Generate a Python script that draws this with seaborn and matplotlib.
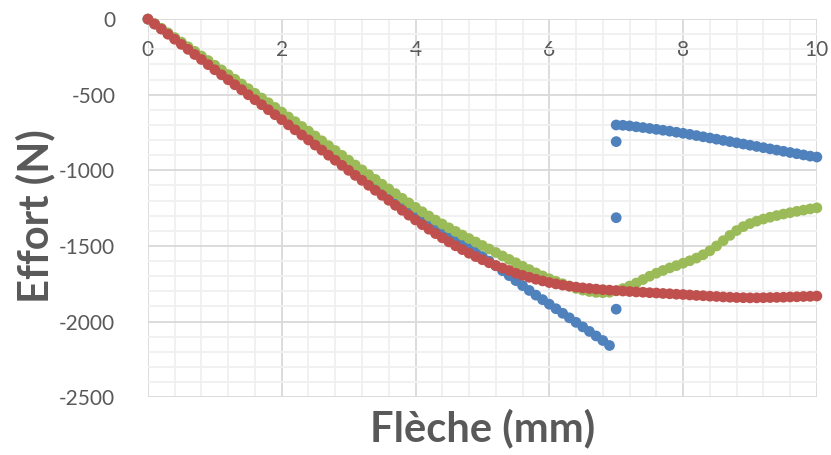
import numpy as np
import pandas as pd
import seaborn as sns
import matplotlib.pyplot as plt
from matplotlib.ticker import MultipleLocator

# flèche (mm), sampling grid shared by the curves
fleche = [0.0, 0.1, 0.2, 0.3, 0.4, 0.5, 0.6, 0.7, 0.8, 0.9,
          1.0, 1.1, 1.2, 1.3, 1.4, 1.5, 1.6, 1.7, 1.8, 1.9,
          2.0, 2.1, 2.2, 2.3, 2.4, 2.5, 2.6, 2.7, 2.8, 2.9,
          3.0, 3.1, 3.2, 3.3, 3.4, 3.5, 3.6, 3.7, 3.8, 3.9,
          4.0, 4.1, 4.2, 4.3, 4.4, 4.5, 4.6, 4.7, 4.8, 4.9,
          5.0, 5.1, 5.2, 5.3, 5.4, 5.5, 5.6, 5.7, 5.8, 5.9,
          6.0, 6.1, 6.2, 6.3, 6.4, 6.5, 6.6, 6.7, 6.8, 6.9,
          7.0, 7.1, 7.2, 7.3, 7.4, 7.5, 7.6, 7.7, 7.8, 7.9,
          8.0, 8.1, 8.2, 8.3, 8.4, 8.5, 8.6, 8.7, 8.8, 8.9,
          9.0, 9.1, 9.2, 9.3, 9.4, 9.5, 9.6, 9.7, 9.8, 9.9,
          10.0]

# blue series: before rupture (0 - 6.9), jump points at 7.0, after rupture (7.0 - 10)
blue_before = [0, -32, -63, -95, -127, -159, -191, -223, -255, -287,
               -319, -351, -383, -415, -447, -479, -511, -543, -575, -607,
               -639, -672, -704, -737, -769, -802, -834, -867, -899, -932,
               -964, -997, -1029, -1061, -1093, -1125, -1157, -1189, -1221, -1253,
               -1284, -1314, -1343, -1372, -1401, -1430, -1458, -1486, -1514, -1542,
               -1570, -1600, -1631, -1663, -1696, -1729, -1762, -1794, -1825, -1855,
               -1885, -1915, -1945, -1975, -2005, -2035, -2065, -2095, -2125, -2158]
blue_jump_x = [7.0, 7.0, 7.0]
blue_jump = [-1918, -1313, -810]
blue_after = [-700, -702, -706, -712, -717, -723, -729, -735, -741, -748,
              -755, -762, -770, -778, -786, -794, -802, -810, -818, -826,
              -834, -842, -850, -858, -866, -874, -882, -890, -898, -906,
              -912]

green = [0, -30, -61, -91, -122, -152, -183, -213, -244, -274,
         -305, -336, -367, -398, -429, -460, -491, -522, -553, -584,
         -615, -647, -678, -710, -741, -773, -805, -837, -869, -901,
         -933, -965, -997, -1029, -1060, -1092, -1123, -1154, -1185, -1215,
         -1245, -1274, -1302, -1329, -1355, -1380, -1404, -1428, -1451, -1474,
         -1497, -1520, -1543, -1566, -1589, -1611, -1634, -1656, -1678, -1698,
         -1717, -1734, -1750, -1765, -1780, -1792, -1801, -1807, -1809, -1806,
         -1797, -1782, -1765, -1745, -1722, -1700, -1680, -1662, -1645, -1630,
         -1614, -1598, -1580, -1558, -1532, -1500, -1465, -1430, -1398, -1372,
         -1352, -1336, -1322, -1310, -1299, -1289, -1280, -1271, -1263, -1255,
         -1248]

red = [0, -33, -66, -100, -133, -167, -200, -234, -267, -301,
       -335, -368, -401, -434, -467, -500, -533, -566, -599, -632,
       -665, -699, -732, -766, -799, -833, -866, -900, -933, -967,
       -1000, -1033, -1066, -1099, -1132, -1165, -1198, -1231, -1264, -1296,
       -1328, -1359, -1389, -1418, -1446, -1473, -1499, -1524, -1548, -1570,
       -1591, -1611, -1629, -1646, -1662, -1680, -1694, -1707, -1720, -1731,
       -1742, -1751, -1759, -1766, -1772, -1777, -1781, -1785, -1789, -1792,
       -1795, -1798, -1801, -1804, -1806, -1809, -1811, -1814, -1816, -1819,
       -1821, -1824, -1827, -1829, -1832, -1834, -1837, -1839, -1841, -1842,
       -1843, -1843, -1842, -1841, -1840, -1839, -1837, -1836, -1834, -1833,
       -1831]

colors = {'s1': '#4F81BD', 's2': '#9BBB59', 's3': '#C0504D'}
grey = '#595959'

x_blue = fleche[:70] + blue_jump_x + fleche[70:]
y_blue = blue_before + blue_jump + blue_after
df = pd.DataFrame({
    'x': x_blue + fleche + fleche,
    'y': y_blue + green + red,
    'serie': ['s1'] * len(x_blue) + ['s2'] * len(fleche) + ['s3'] * len(fleche),
})

sns.set_style('white')
plt.rcParams['font.family'] = ['Lato', 'DejaVu Sans']
plt.rcParams['axes.unicode_minus'] = False

fig = plt.figure(figsize=(8.31, 4.55), dpi=100)
ax = fig.add_axes([0.178, 0.127, 0.805, 0.831])

sns.scatterplot(data=df, x='x', y='y', hue='serie', palette=colors, s=60,
                linewidth=0, legend=False, ax=ax, clip_on=False, zorder=3)

ax.set_xlim(0, 10)
ax.set_ylim(-2500, 0)
ax.xaxis.set_major_locator(MultipleLocator(2))
ax.xaxis.set_minor_locator(MultipleLocator(0.4))
ax.yaxis.set_major_locator(MultipleLocator(500))
ax.yaxis.set_minor_locator(MultipleLocator(100))
ax.grid(which='major', color='#D9D9D9', linewidth=1.3)
ax.grid(which='minor', color='#F0F0F0', linewidth=1.3)
ax.set_axisbelow(True)
for sp in ax.spines.values():
    sp.set_visible(False)

# x labels sit just under the top (y = 0) axis line, like Excel
ax.tick_params(axis='x', which='both', top=False, bottom=False, labelbottom=False,
               labeltop=True, labelsize=15, labelcolor=grey, pad=-33)
ax.tick_params(axis='y', which='both', left=False, labelsize=15, labelcolor=grey, pad=20)

ax.set_xlabel('Flèche (mm)', fontsize=30, fontweight='bold', color=grey, labelpad=8)
ax.set_ylabel('Effort (N)', fontsize=30, fontweight='bold', color=grey)
ax.yaxis.set_label_coords(-0.138, 0.48)

fig.savefig('out.png', dpi=100)
